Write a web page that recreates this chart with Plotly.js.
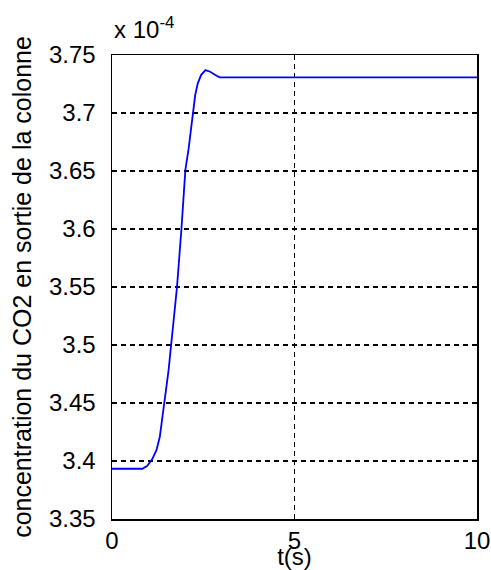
<!DOCTYPE html>
<html>
<head>
<meta charset="utf-8">
<script src="https://cdn.plot.ly/plotly-3.0.1.min.js"></script>
<style>
  html, body { margin: 0; padding: 0; background: #ffffff; }
  #chart { width: 491px; height: 570px; }
</style>
</head>
<body>
<div id="chart"></div>
<script>
// Step response: CO2 concentration at the column outlet (values in units of 1e-4)
const timeS = [0, 0.83, 0.96, 1.10, 1.22, 1.31, 1.37, 1.42, 1.49, 1.55, 1.62, 1.78, 1.90, 2.01, 2.10, 2.17, 2.22, 2.28, 2.35, 2.44, 2.56, 2.69, 2.83, 2.95, 10];
const co2Conc = [3.3933, 3.3933, 3.3957, 3.4015, 3.4095, 3.4209, 3.4353, 3.4497, 3.4640, 3.4784, 3.4997, 3.5497, 3.5990, 3.6508, 3.6695, 3.6868, 3.6997, 3.7155, 3.7256, 3.7327, 3.7370, 3.7356, 3.7327, 3.7307, 3.7307];

const xTicks = [0, 5, 10];
const yTicks = [3.35, 3.4, 3.45, 3.5, 3.55, 3.6, 3.65, 3.7, 3.75];
const yTickText = ['3.35', '3.4', '3.45', '3.5', '3.55', '3.6', '3.65', '3.7', '3.75'];

const FONT = 'Liberation Sans, Arial, sans-serif';

const trace = {
  x: timeS,
  y: co2Conc,
  type: 'scatter',
  mode: 'lines',
  line: { color: '#0000ff', width: 1.8 },
  hoverinfo: 'skip'
};

const axisCommon = {
  showline: true,
  linecolor: '#000000',
  linewidth: 1.5,
  mirror: 'ticks',
  ticks: 'inside',
  ticklen: 4,
  tickcolor: '#000000',
  showgrid: true,
  gridcolor: '#000000',
  gridwidth: 1.2,
  griddash: '5px,4px',
  zeroline: false,
  tickfont: { family: FONT, size: 24, color: '#000000' }
};

const layout = {
  width: 491,
  height: 570,
  margin: { l: 111.5, r: 14, t: 55, b: 51 },
  paper_bgcolor: '#ffffff',
  plot_bgcolor: '#ffffff',
  showlegend: false,
  xaxis: Object.assign({}, axisCommon, {
    range: [0, 10],
    tickmode: 'array',
    tickvals: xTicks,
    ticktext: xTicks.map(String),
    title: { text: 't(s)', font: { family: FONT, size: 24, color: '#000000' }, standoff: 0 }
  }),
  yaxis: Object.assign({}, axisCommon, {
    range: [3.35, 3.75],
    tickmode: 'array',
    tickvals: yTicks,
    ticktext: yTickText,
    ticklabelstandoff: 10,
    title: {
      text: 'concentration du CO2 en sortie de la colonne',
      font: { family: FONT, size: 25, color: '#000000' },
      standoff: 10
    }
  }),
  annotations: [{
    xref: 'paper', yref: 'paper',
    x: 0, y: 1,
    xanchor: 'left', yanchor: 'bottom',
    yshift: 10,
    showarrow: false,
    text: 'x 10<sup>-4</sup>',
    font: { family: FONT, size: 24, color: '#000000' }
  }]
};

Plotly.newPlot('chart', [trace], layout, { displayModeBar: false, staticPlot: true });
</script>
</body>
</html>
